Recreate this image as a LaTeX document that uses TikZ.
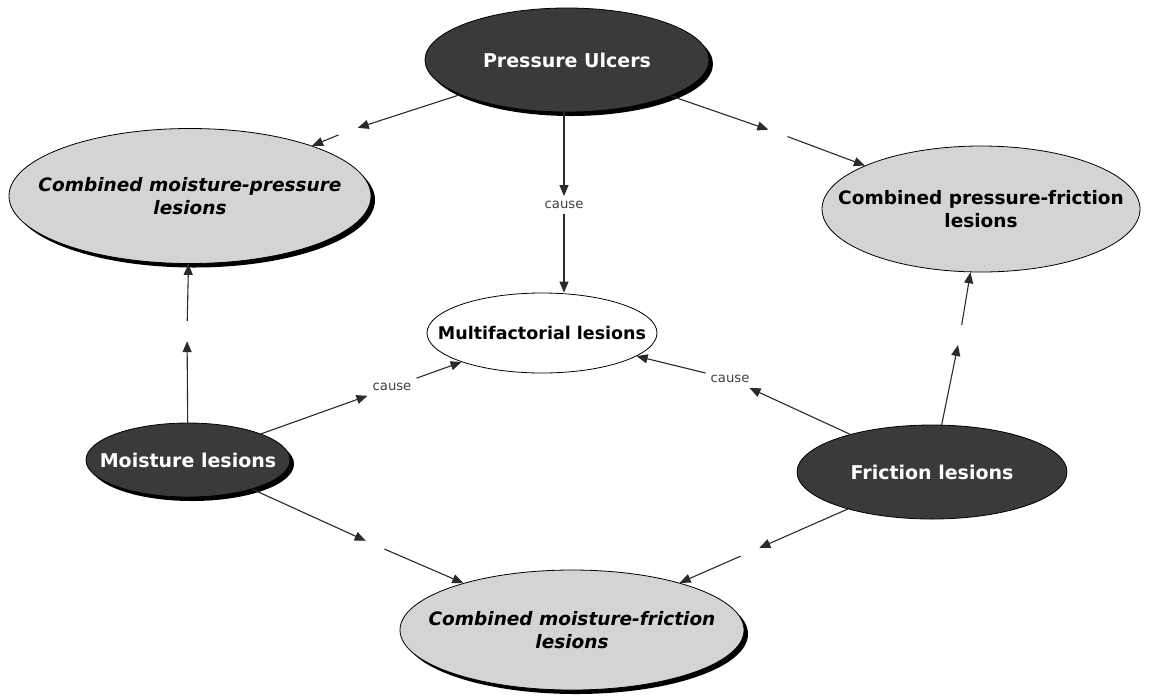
\documentclass[tikz,border=0pt]{standalone}
\usepackage{fontspec}
\setmainfont{DejaVu Sans}
\usetikzlibrary{shapes.geometric,arrows.meta,shadows}
\definecolor{darkfill}{HTML}{3A3A3A}
\definecolor{lightfill}{HTML}{D4D4D4}
\definecolor{linecol}{HTML}{2A2A2A}
\begin{document}
\begin{tikzpicture}[x=1pt,y=-1pt,
  concept/.style={ellipse, draw=black, line width=0.8pt, inner sep=0pt},
  darkc/.style={concept, fill=darkfill},
  lightc/.style={concept, fill=lightfill},
  darktxt/.style={align=center, text=white, inner sep=0pt, font=\bfseries\fontsize{19}{23}\selectfont},
  lighttxt/.style={align=center, text=black, inner sep=0pt, font=\bfseries\fontsize{18.5}{23}\selectfont},
  italtxt/.style={align=center, text=black, inner sep=0pt, font=\bfseries\itshape\fontsize{18.5}{23}\selectfont},
  mftxt/.style={align=center, text=black, inner sep=0pt, font=\bfseries\fontsize{17.5}{21}\selectfont},
  shadowed/.style={drop shadow={shadow xshift=4pt, shadow yshift=-4pt, fill=black, opacity=1}},
  gapnode/.style={circle, inner sep=0pt, minimum size=20pt},
  causelbl/.style={font=\fontsize{13.2}{15}\selectfont, text=black!75, inner sep=5pt},
  arr/.style={-{Triangle[length=11pt,width=9pt]}, draw=linecol, line width=1.1pt}
]
\useasboundingbox[fill=white] (0,0) rectangle (1155,697);

\node[darkc, shadowed, minimum width=284pt, minimum height=104pt,
  label={[darktxt]center:Pressure Ulcers}] (pu) at (567,60) {};
\node[lightc, shadowed, minimum width=362pt, minimum height=135pt,
  label={[italtxt]center:Combined moisture-pressure\\lesions}] (cmp) at (190,196) {};
\node[lightc, minimum width=318pt, minimum height=126pt,
  label={[lighttxt]center:Combined pressure-friction\\lesions}] (cpf) at (981,209) {};
\node[concept, fill=white, minimum width=230pt, minimum height=80pt,
  label={[mftxt]center:Multifactorial lesions}] (mf) at (542,333) {};
\node[darkc, shadowed, minimum width=204pt, minimum height=74pt,
  label={[darktxt]center:Moisture lesions}] (ml) at (188,460) {};
\node[darkc, minimum width=270pt, minimum height=94pt,
  label={[darktxt]center:Friction lesions}] (fl) at (932,472) {};
\node[lightc, shadowed, minimum width=344pt, minimum height=120pt,
  label={[italtxt]center:Combined moisture-friction\\lesions}] (cmf) at (572,630) {};

\node[gapnode] (g1) at (348,131) {};
\node[gapnode] (g2) at (778,133) {};
\node[gapnode] (g3) at (187,331) {};
\node[gapnode] (g4) at (960,335) {};
\node[gapnode] (g5) at (375,545) {};
\node[gapnode] (g6) at (750,552) {};

\node[causelbl] (c1) at (564,205) {cause};
\node[causelbl] (c2) at (392,387) {cause};
\node[causelbl] (c3) at (730,379) {cause};

\draw[arr] (pu) -- (g1);
\draw[arr] (g1) -- (cmp);
\draw[arr] (pu) -- (g2);
\draw[arr] (g2) -- (cpf);
\draw[arr] (ml) -- (g3);
\draw[arr] (g3) -- (cmp);
\draw[arr] (fl) -- (g4);
\draw[arr] (g4) -- (cpf);
\draw[arr] (ml) -- (g5);
\draw[arr] (g5) -- (cmf);
\draw[arr] (fl) -- (g6);
\draw[arr] (g6) -- (cmf);

\draw[arr] (pu.south -| c1.north) -- (c1.north);
\draw[arr] (c1.south) -- (c1.south |- mf.north);
\draw[arr] (ml) -- (c2);
\draw[arr] (c2) -- (mf);
\draw[arr] (fl) -- (c3);
\draw[arr] (c3) -- (mf);
\end{tikzpicture}
\end{document}
